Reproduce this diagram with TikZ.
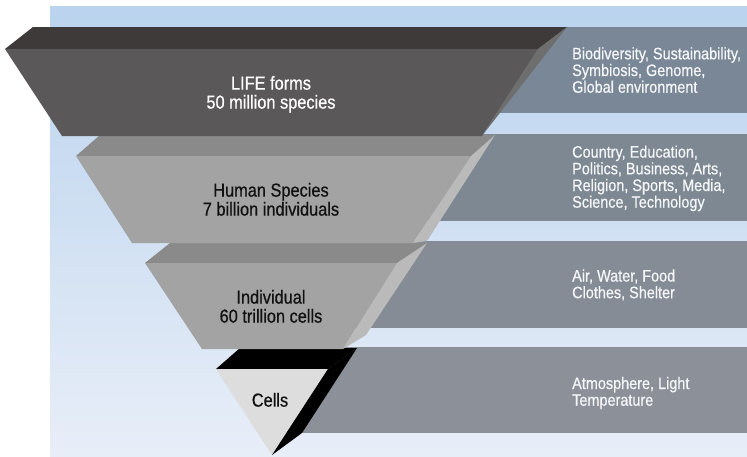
\documentclass[tikz,border=0pt]{standalone}
\usepackage{fontspec}
\setmainfont{Liberation Sans}[FakeStretch=0.87,FakeBold=0.6]
\definecolor{bgtop}{HTML}{BAD3EE}
\definecolor{bgbot}{HTML}{E8EEF8}
\definecolor{lonetop}{HTML}{3E3A3A}
\definecolor{lonefront}{HTML}{5A5859}
\definecolor{loneside}{HTML}{6E6E6E}
\definecolor{ltwotop}{HTML}{8A8A8A}
\definecolor{ltwofront}{HTML}{A2A3A2}
\definecolor{ltwoside}{HTML}{B9BAB9}
\definecolor{cellfront}{HTML}{DCDDDC}
\definecolor{barone}{HTML}{798797}
\definecolor{bartwo}{HTML}{7E8893}
\definecolor{barthree}{HTML}{858C96}
\definecolor{barfour}{HTML}{8B9099}
\definecolor{rtext}{HTML}{F4F6F8}
\definecolor{ltext}{HTML}{111111}
\newcommand\mylinesc[1]{\vtop{\halign{\hfil##\hfil\cr#1\crcr}}}
\newcommand\mylinesl[1]{\vtop{\halign{##\hfil\cr#1\crcr}}}
\begin{document}
\begin{tikzpicture}[x=1pt,y=-1pt,
  face/.style={fill=#1, draw=none},
  bar/.style={fill=#1, draw=none},
  lefttxt/.style={anchor=base, inner sep=0pt, font=\fontsize{18.8}{19}\selectfont},
  righttxt/.style={anchor=base west, inner sep=0pt, text=rtext, font=\fontsize{16.6}{16.7}\selectfont}]
\useasboundingbox (0,0) rectangle (747,456);
\fill[white] (0,0) rectangle (747,456);
\shade[top color=bgtop, bottom color=bgbot] (50,6) rectangle (747,456);
% bars
\fill[bar=barone]   (300,27)  rectangle (747,113);
\fill[bar=bartwo]   (300,134) rectangle (747,221);
\fill[bar=barthree] (300,241) rectangle (747,328);
\fill[bar=barfour]  (280,347) rectangle (747,433);
% layer 4 (cells)
\fill[face=black] (216,369) -- (240,348) -- (357,348) -- (328,369) -- cycle;
\fill[face=cellfront] (216,369) -- (328,369) -- (272,455) -- cycle;
\fill[face=black] (328,369) -- (357,348) -- (302,433) -- (272,455) -- cycle;
% layer 3
\fill[face=ltwotop] (145,263) -- (170,243) -- (427,243) -- (397,263) -- cycle;
\fill[face=ltwofront] (145,263) -- (397,263) -- (343,349) -- (202,349) -- cycle;
\fill[face=ltwoside] (397,263) -- (427,243) -- (366,335) -- (343,349) -- cycle;
% layer 2
\fill[face=ltwotop] (76,156) -- (100,135) -- (495,135) -- (471,156) -- cycle;
\fill[face=ltwofront] (76,156) -- (471,156) -- (413,243) -- (132,243) -- cycle;
\fill[face=ltwoside] (471,156) -- (495,135) -- (427,241) -- (413,243) -- cycle;
% layer 1
\fill[face=lonetop] (5,49) -- (33,27) -- (567,27) -- (538,49) -- cycle;
\fill[face=lonefront] (5,49) -- (538,49) -- (482,136) -- (62,136) -- cycle;
\fill[face=loneside] (538,49) -- (567,27) -- (485,132) -- (482,136) -- cycle;
% pyramid labels
\node[lefttxt, text=white] (life) at (271,89.6) {\mylinesc{LIFE forms\cr 50 million species}};
\node[lefttxt, text=ltext] (human) at (271,196.6) {\mylinesc{Human Species\cr 7 billion individuals}};
\node[lefttxt, text=ltext] (indiv) at (271,303.6) {\mylinesc{Individual\cr 60 trillion cells}};
\node[lefttxt, text=ltext] (cells) at (270,406.6) {Cells};
% bar labels
\node[righttxt] (rone) at (572,59.3) {\mylinesl{Biodiversity, Sustainability,\cr Symbiosis, Genome,\cr Global environment}};
\node[righttxt] (rtwo) at (572,157.6) {\mylinesl{Country, Education,\cr Politics, Business, Arts,\cr Religion, Sports, Media,\cr Science, Technology}};
\node[righttxt] (rthree) at (572,281.5) {\mylinesl{Air, Water, Food\cr Clothes, Shelter}};
\node[righttxt] (rfour) at (572,389) {\mylinesl{Atmosphere, Light\cr Temperature}};
\end{tikzpicture}
\end{document}
